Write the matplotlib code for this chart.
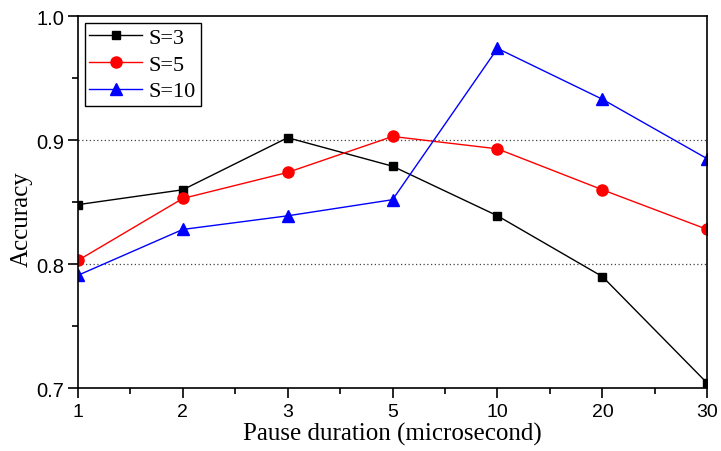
import numpy as np
import matplotlib.pyplot as plt
from matplotlib.ticker import MultipleLocator, AutoMinorLocator

# pause durations (microsecond) shown as evenly spaced categories
pause = ['1', '2', '3', '5', '10', '20', '30']
acc_s3 = [0.848, 0.860, 0.902, 0.879, 0.839, 0.790, 0.704]
acc_s5 = [0.803, 0.853, 0.874, 0.903, 0.893, 0.860, 0.828]
acc_s10 = [0.791, 0.828, 0.839, 0.852, 0.974, 0.933, 0.885]

fig = plt.figure(figsize=(7.21, 4.52), dpi=100)
ax = fig.add_axes([0.108, 0.139, 0.873, 0.823])

x = np.arange(len(pause))
ax.plot(x, acc_s3, color='black', marker='s', ms=6, lw=1, label='S=3')
ax.plot(x, acc_s5, color='red', marker='o', ms=8, lw=1, label='S=5')
ax.plot(x, acc_s10, color='blue', marker='^', ms=8, lw=1, label='S=10')

for yv in (0.8, 0.9):
    ax.axhline(yv, color='#444444', lw=0.9, ls=(0, (1, 2)), zorder=0)

ax.set_xlim(0, len(pause) - 1)
ax.set_ylim(0.7, 1.0)
ax.set_xticks(x)
ax.set_xticklabels(pause, fontname='Liberation Sans', fontsize=14)
ax.xaxis.set_minor_locator(AutoMinorLocator(2))
ax.yaxis.set_major_locator(MultipleLocator(0.1))
ax.yaxis.set_minor_locator(MultipleLocator(0.05))
ax.set_yticklabels(['%.1f' % v for v in ax.get_yticks()],
                   fontname='Liberation Sans', fontsize=14.5)
ax.tick_params(which='major', direction='out', length=7, width=1.2)
ax.tick_params(axis='x', which='major', pad=4)
ax.tick_params(axis='y', which='major', pad=3)
ax.tick_params(which='minor', direction='out', length=4, width=1.2)
for sp in ax.spines.values():
    sp.set_linewidth(1.2)

ax.set_xlabel('Pause duration (microsecond)', fontname='Liberation Serif',
              fontsize=18)
ax.xaxis.set_label_coords(0.5, -0.092)
ax.set_ylabel('Accuracy', fontname='Liberation Serif', fontsize=18)
ax.yaxis.set_label_coords(-0.072, 0.457)

leg = ax.legend(loc='upper left', prop={'family': 'Liberation Serif', 'size': 16},
                fancybox=False, framealpha=1, edgecolor='black',
                handlelength=2.4, borderaxespad=0.3, labelspacing=0.28,
                handletextpad=0.3, borderpad=0.2)
leg.get_frame().set_linewidth(1)

fig.savefig('out.png', dpi=100)
